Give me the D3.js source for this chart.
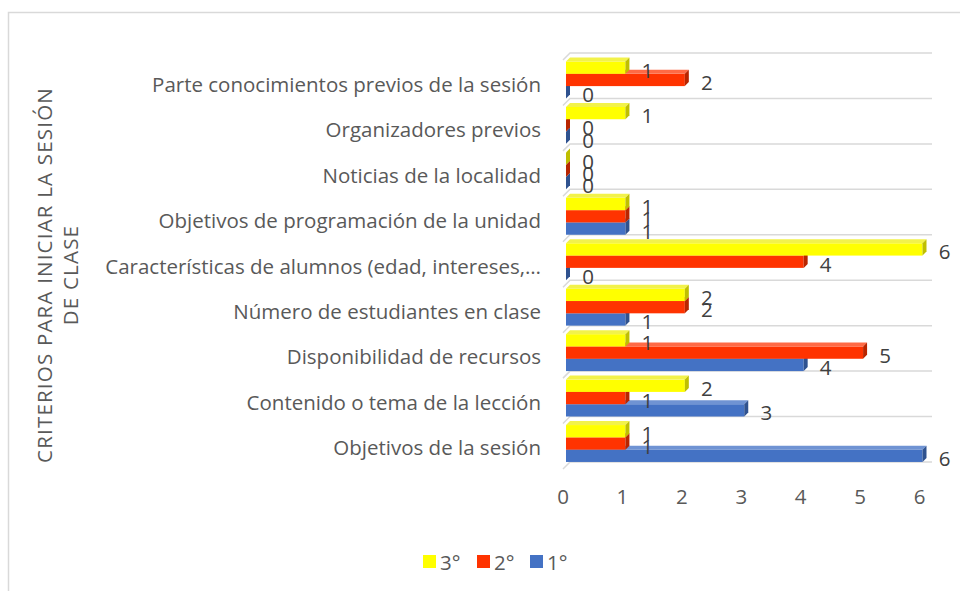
<!DOCTYPE html>
<html>
<head>
<meta charset="utf-8">
<script src="https://cdn.jsdelivr.net/npm/d3@7"></script>
<style>
body{margin:0;background:#fff}
svg{display:block;font-family:"Open Sans",sans-serif}
</style>
</head>
<body>
<div id="chart"></div>
<script>
// datos
const categorias = ["Parte conocimientos previos de la sesión", "Organizadores previos", "Noticias de la localidad",
  "Objetivos de programación de la unidad", "Características de alumnos (edad, intereses,…",
  "Número de estudiantes en clase", "Disponibilidad de recursos", "Contenido o tema de la lección", "Objetivos de la sesión"]
const series = ["3°", "2°", "1°"]
const tercero = [1, 1, 0, 1, 6, 2, 1, 2, 1]
const segundo = [2, 0, 0, 1, 4, 2, 5, 1, 1]
const primero = [0, 0, 0, 1, 0, 1, 4, 3, 6]
const valoresEje = [0, 1, 2, 3, 4, 5, 6]
const tituloEje = ["CRITERIOS PARA INICIAR LA SESIÓN", "DE CLASE"]

const valores = [tercero, segundo, primero]
const colores = [
  {frente: "#FFFF00", arriba: "#F2F24A", lado: "#BFBF00"},
  {frente: "#FF3300", arriba: "#FF6A45", lado: "#B82500"},
  {frente: "#4472C4", arriba: "#6F93D3", lado: "#2F528F"}
]

const ancho = 960, alto = 591
const prof = {dx: 4, dy: 4}
const letra = 20.5

const svg = d3.select("#chart").append("svg").attr("width", ancho).attr("height", alto)

// borde del area del grafico
svg.append("rect").attr("x", 8.5).attr("y", 12.5).attr("width", 1000).attr("height", 700)
  .attr("fill", "none").attr("stroke", "#d9d9d9").attr("stroke-width", 1.5)

// escalas
const x = d3.scaleLinear().domain([0, 6]).range([566, 922.5])
const y = d3.scaleBand().domain(categorias).range([53, 462]).paddingInner(0)
const ySerie = d3.scaleBand().domain(series).range([8.5, 45.4])

// lineas de cuadricula (pared 3D)
const lineasY = categorias.map(c => y(c)).concat([462])
const grid = svg.append("g").attr("stroke", "#d9d9d9").attr("stroke-width", 1.5).attr("fill", "none")
lineasY.forEach(g => {
  grid.append("path").attr("d", `M563,${g + 7}L570,${g}L932,${g}`)
})

// barras
const grupoBarras = svg.append("g")
categorias.forEach((c, ci) => {
  for (let si = series.length - 1; si >= 0; si--) {
    const v = valores[si][ci]
    const col = colores[si]
    const x0 = x(0), x1 = x(v)
    const y0 = y(c) + ySerie(series[si])
    const h = ySerie.bandwidth()
    const b = grupoBarras.append("g")
    b.append("rect").attr("x", x0).attr("y", y0).attr("width", x1 - x0).attr("height", h).attr("fill", col.frente)
    b.append("path").attr("fill", col.arriba)
      .attr("d", `M${x0},${y0}L${x0 + prof.dx},${y0 - prof.dy}L${x1 + prof.dx},${y0 - prof.dy}L${x1},${y0}Z`)
    b.append("path").attr("fill", col.lado)
      .attr("d", `M${x1},${y0}L${x1 + prof.dx},${y0 - prof.dy}L${x1 + prof.dx},${y0 + h - prof.dy}L${x1},${y0 + h}Z`)
  }
})

// etiquetas de datos
const grupoEtiquetas = svg.append("g").attr("fill", "#404040").attr("font-size", letra)
  .attr("text-anchor", "middle").attr("dominant-baseline", "central")
categorias.forEach((c, ci) => {
  series.forEach((s, si) => {
    const v = valores[si][ci]
    grupoEtiquetas.append("text")
      .attr("x", x(v) + 22)
      .attr("y", y(c) + ySerie(s) + ySerie.bandwidth() / 2 + 2)
      .text(v)
  })
})

// etiquetas de categorias
svg.append("g").attr("fill", "#595959").attr("font-size", letra).attr("text-anchor", "end")
  .attr("dominant-baseline", "central")
  .selectAll("text").data(categorias).enter().append("text")
  .attr("x", 541).attr("y", d => y(d) + y.bandwidth() / 2 + 8)
  .text(d => d)

// eje x
svg.append("g").attr("fill", "#595959").attr("font-size", letra).attr("text-anchor", "middle")
  .attr("dominant-baseline", "central")
  .selectAll("text").data(valoresEje).enter().append("text")
  .attr("x", d => x(d) - 3).attr("y", 496)
  .text(d => d)

// titulo del eje
const titulo = svg.append("text").attr("fill", "#595959").attr("font-size", letra).attr("text-anchor", "middle")
  .attr("letter-spacing", 1.2)
  .attr("transform", "translate(45,275) rotate(-90)")
tituloEje.forEach((t, i) => {
  titulo.append("tspan").attr("x", 0).attr("dy", i === 0 ? 7 : 26).text(t)
})

// leyenda
const leyenda = svg.append("g").attr("font-size", letra).attr("fill", "#595959")
const leyX = [423, 477, 530]
series.forEach((s, i) => {
  leyenda.append("rect").attr("x", leyX[i]).attr("y", 555).attr("width", 13).attr("height", 13)
    .attr("fill", colores[i].frente)
  leyenda.append("text").attr("x", leyX[i] + 17).attr("y", 562).attr("dominant-baseline", "central").text(s)
})
</script>
</body>
</html>
